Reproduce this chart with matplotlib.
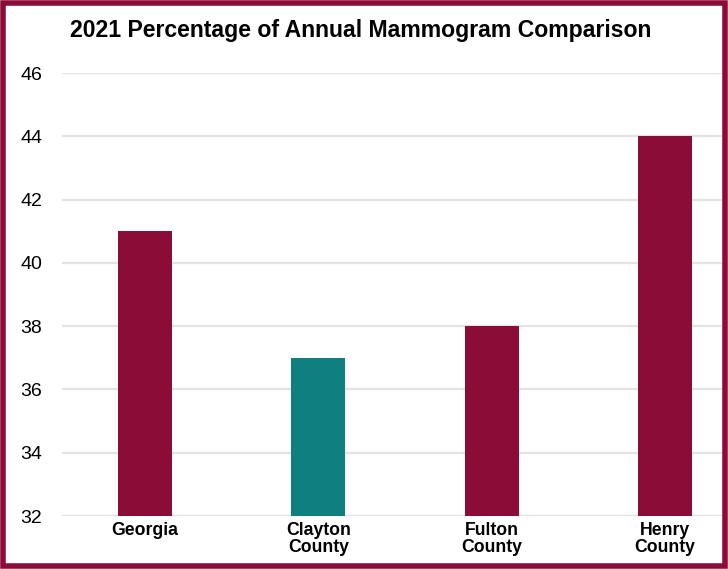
import matplotlib.pyplot as plt
from matplotlib.patches import Rectangle

# mammogram rates by area
areas = ["Georgia", "Clayton\nCounty", "Fulton\nCounty", "Henry\nCounty"]
rates = [41, 37, 38, 44]
bar_colors = ["#8c0c38", "#0f7f80", "#8c0c38", "#8c0c38"]
y_ticks = [32, 34, 36, 38, 40, 42, 44, 46]

plt.rcParams['font.family'] = ['Liberation Sans', 'DejaVu Sans']

fig = plt.figure(figsize=(7.28, 5.69), dpi=100)
ax = fig.add_axes([0.0852, 0.0931, 0.9066, 0.7786])

x = list(range(len(areas)))
ax.bar(x, rates, width=0.312, color=bar_colors, zorder=2)

ax.set_ylim(32, 46)
ax.set_xlim(-0.479, 3.33)
ax.set_yticks(y_ticks)
ax.set_xticks(x)
ax.set_xticklabels(areas, fontsize=12.7, fontweight='bold', linespacing=1.05)
ax.tick_params(axis='y', length=0, pad=14.4, labelsize=14)
ax.tick_params(axis='x', length=0, pad=4)

ax.grid(axis='y', color='#e3e3e3', linewidth=1.6, zorder=0)
ax.set_axisbelow(True)
for s in ax.spines.values():
    s.set_visible(False)

fig.text(0.4955, 0.946, "2021 Percentage of Annual Mammogram Comparison",
         ha='center', va='center', fontsize=16.6, fontweight='bold')

# maroon frame round the figure
fig.patches.append(Rectangle((0.004, 0.005), 0.992, 0.99, transform=fig.transFigure,
                             fill=False, edgecolor='#8c0c38', linewidth=4))

fig.savefig("out.png", dpi=100)
